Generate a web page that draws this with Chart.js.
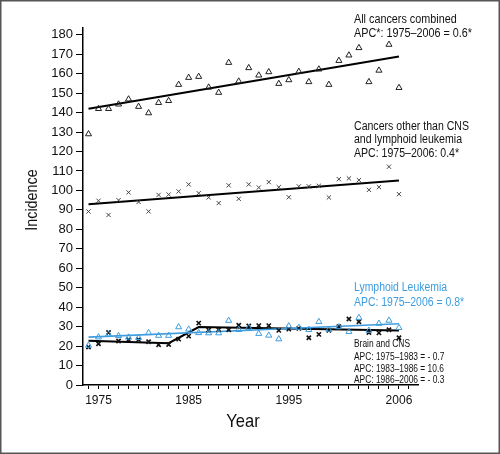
<!DOCTYPE html>
<html>
<head>
<meta charset="utf-8">
<script src="https://cdn.jsdelivr.net/npm/chart.js@4.4.1/dist/chart.umd.min.js"></script>
<style>
  html, body { margin: 0; padding: 0; background: #fff; }
</style>
</head>
<body>
<canvas id="chart" width="500" height="454"></canvas>
<script>
// data
const years = [1975, 1976, 1977, 1978, 1979, 1980, 1981, 1982, 1983, 1984, 1985, 1986, 1987, 1988, 1989, 1990,
               1991, 1992, 1993, 1994, 1995, 1996, 1997, 1998, 1999, 2000, 2001, 2002, 2003, 2004, 2005, 2006];
const allCancers = [129, 142, 142, 144.3, 146.9, 143.1, 139.8, 145.1, 146.1, 154.4, 158, 158.5, 153, 150.3, 165.7, 156.1,
                    163, 159.2, 160.9, 154.9, 156.8, 161.1, 155.8, 162.3, 154.4, 166.7, 169.5, 173.3, 155.8, 161.7, 175, 152.8];
const otherCancers = [89.2, 94.7, 87.4, 95, 99, 94.1, 89.2, 97.7, 97.9, 99.5, 103.1, 98.6, 96.4, 93.5, 102.6, 95.7,
                      103.1, 101.5, 104.3, 101.7, 96.5, 102.1, 102.1, 102.4, 96.4, 105.8, 106.2, 105.3, 100.3, 101.7, 112.2, 98.1];
const leukemia = [20.3, 24.6, 26, 25.3, 24.5, 24.3, 26.8, 25.4, 25.4, 29.8, 28.6, 26.8, 26.7, 26.7, 33.1, 28.4,
                  29.5, 26.4, 25.5, 23.6, 30.3, 29.5, 28.4, 32.5, 28.5, 29.8, 27.4, 34.6, 28, 31.6, 33.2, 29.4];
const brainCNS = [19.5, 21.2, 27, 22.6, 23.3, 23.3, 22.2, 20.7, 20.8, 23.6, 25.1, 31.8, 28.3, 28.4, 28.4, 30.7,
                  30.3, 30.5, 30.5, 28.1, 28.7, 29.1, 24.3, 26, 28.1, 30, 33.9, 32.5, 27, 26.8, 28.4, 24.3];

// fitted trends (joinpoint segments)
const trendYears = [1975, 2006];
const allTrend = [142, 168.8];
const otherTrend = [92.9, 105.1];
const leukTrend = [24.6, 31.5];
const brainTrendYears = [1975, 1983, 1986, 2006];
const brainTrend = [22.8, 21.5, 29.8, 28.0];

const yTicks = [0, 10, 20, 30, 40, 50, 60, 70, 80, 90, 100, 110, 120, 130, 140, 150, 160, 170, 180];
const xLabelYears = [1975, 1985, 1995, 2006];

const blue = '#3f9ddf';
const sans = '"Liberation Sans", Arial, sans-serif';

function pts(xs, ys) {
  return xs.map((x, i) => ({ x: x, y: ys[i] }));
}

// text drawn in a condensed look: Liberation Sans squeezed horizontally
const notes = [
  { t: 'All cancers combined', x: 354, y: 20, size: 12, sx: 0.9, color: '#111' },
  { t: 'APC*: 1975\u20132006 = 0.6*', x: 354, y: 33.5, size: 12, sx: 0.9, color: '#111' },
  { t: 'Cancers other than CNS', x: 354, y: 126.7, size: 12, sx: 0.88, color: '#111' },
  { t: 'and lymphoid leukemia', x: 354, y: 140, size: 12, sx: 0.88, color: '#111' },
  { t: 'APC: 1975\u20132006: 0.4*', x: 354, y: 153.3, size: 12, sx: 0.88, color: '#111' },
  { t: 'Lymphoid Leukemia', x: 354, y: 288, size: 12, sx: 0.87, color: blue },
  { t: 'APC: 1975\u20132006 = 0.8*', x: 354, y: 303, size: 12, sx: 0.87, color: blue },
  { t: 'Brain and CNS', x: 354, y: 344, size: 10.5, sx: 0.8, color: '#111' },
  { t: 'APC: 1975\u20131983 = - 0.7', x: 354, y: 356.7, size: 10.5, sx: 0.8, color: '#111' },
  { t: 'APC: 1983\u20131986 = 10.6', x: 354, y: 368.7, size: 10.5, sx: 0.8, color: '#111' },
  { t: 'APC: 1986\u20132006 = - 0.3', x: 354, y: 380.5, size: 10.5, sx: 0.8, color: '#111' },
  { t: 'Year', x: 243, y: 422, size: 19, sx: 0.87, color: '#111', align: 'center' },
  { t: 'Incidence', x: 32, y: 200, size: 16.5, sx: 0.87, color: '#111', align: 'center', rot: -Math.PI / 2 }
];

const notesPlugin = {
  id: 'notes',
  afterDraw(chart) {
    const ctx = chart.ctx;
    notes.forEach(n => {
      ctx.save();
      ctx.translate(n.x, n.y);
      if (n.rot) ctx.rotate(n.rot);
      ctx.scale(n.sx, 1);
      ctx.textAlign = n.align || 'left';
      ctx.textBaseline = 'middle';
      ctx.font = n.size + 'px ' + sans;
      ctx.fillStyle = n.color;
      ctx.fillText(n.t, 0, 0);
      ctx.restore();
    });
    // frame round the figure
    ctx.save();
    ctx.strokeStyle = '#555';
    ctx.lineWidth = 1.5;
    ctx.strokeRect(0.75, 0.75, 498.5, 452.5);
    ctx.restore();
  }
};

new Chart(document.getElementById('chart'), {
  type: 'scatter',
  data: {
    datasets: [
      { data: pts(years, allCancers), pointStyle: 'triangle', pointRadius: 3.5, borderColor: '#222', borderWidth: 1, backgroundColor: 'rgba(0,0,0,0)' },
      { data: pts(years, otherCancers), pointStyle: 'crossRot', pointRadius: 3, borderColor: '#444', borderWidth: 1 },
      { data: pts(years, leukemia), pointStyle: 'triangle', pointRadius: 3.5, borderColor: blue, borderWidth: 1, backgroundColor: 'rgba(0,0,0,0)' },
      { data: pts(years, brainCNS), pointStyle: 'crossRot', pointRadius: 3, borderColor: '#111', borderWidth: 1.6 },
      { type: 'line', data: pts(trendYears, allTrend), borderColor: '#000', borderWidth: 2, pointRadius: 0, fill: false },
      { type: 'line', data: pts(trendYears, otherTrend), borderColor: '#000', borderWidth: 2, pointRadius: 0, fill: false },
      { type: 'line', data: pts(trendYears, leukTrend), borderColor: blue, borderWidth: 1.6, pointRadius: 0, fill: false },
      { type: 'line', data: pts(brainTrendYears, brainTrend), borderColor: '#000', borderWidth: 2, pointRadius: 0, fill: false }
    ]
  },
  options: {
    responsive: false,
    animation: false,
    layout: { padding: { left: 0, top: 28, right: 82, bottom: 0 } },
    plugins: { legend: { display: false }, tooltip: { enabled: false } },
    scales: {
      x: {
        type: 'linear',
        min: 1974.45,
        max: 2007.9,
        afterFit: s => { s.height = 69; },
        afterBuildTicks: s => { s.ticks = years.concat([2007]).map(v => ({ value: v })); },
        grid: { drawOnChartArea: false, drawTicks: true, tickLength: 4, color: '#000', lineWidth: 1 },
        border: { display: true, color: '#000', width: 1.5 },
        ticks: {
          padding: 4,
          color: '#111',
          maxRotation: 0,
          autoSkip: false,
          font: { family: sans, size: 12 },
          callback: v => xLabelYears.includes(v) ? (v === 1975 ? '      1975' : String(v)) : ''
        }
      },
      y: {
        type: 'linear',
        min: 0,
        max: 183.5,
        afterFit: s => { s.width = 83; },
        afterBuildTicks: s => { s.ticks = yTicks.map(v => ({ value: v })); },
        grid: { drawOnChartArea: false, drawTicks: true, tickLength: 7, color: '#000', lineWidth: 1 },
        border: { display: true, color: '#000', width: 1.5 },
        ticks: {
          padding: 3,
          color: '#111',
          autoSkip: false,
          font: { family: sans, size: 13 }
        }
      }
    }
  },
  plugins: [notesPlugin]
});
</script>
</body>
</html>
